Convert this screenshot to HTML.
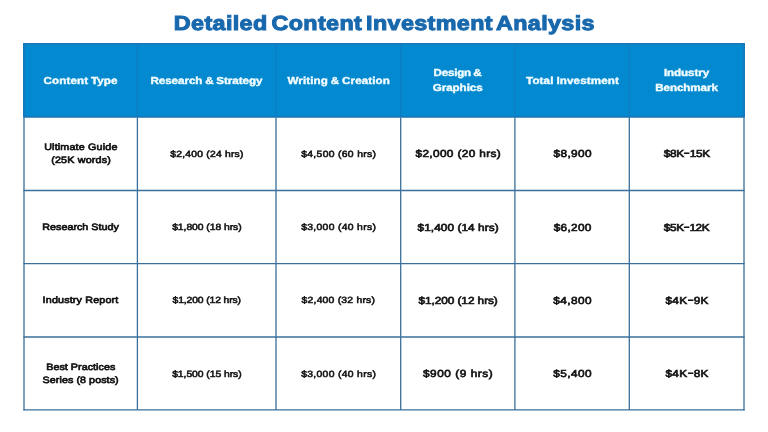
<!DOCTYPE html>
<html lang="en">
<head>
<meta charset="utf-8">
<title>Detailed Content Investment Analysis</title>
<style>
html,body{margin:0;padding:0;}
body{width:768px;height:432px;overflow:hidden;background:#fff;position:relative;font-family:"Liberation Sans",sans-serif;}
.hd{position:absolute;left:23.4px;top:43.4px;width:721.2px;height:74px;background:#0389cf;}
svg.grid{position:absolute;left:0;top:0;}
.t{position:absolute;white-space:nowrap;line-height:1;transform-origin:0 50%;--x:0px;--s:1;transform:translateX(var(--x)) scaleX(var(--s));text-rendering:geometricPrecision;}
.title{color:#1868ad;font-weight:bold;font-size:20.3px;-webkit-text-stroke:1px #1868ad;--s:1.15;word-spacing:-2.5px;}
.h{color:#f2fcff;font-weight:bold;font-size:10.1px;-webkit-text-stroke:0.4px #f2fcff;--s:1.15;word-spacing:-0.4px;}
.b{color:#141414;font-size:9.2px;-webkit-text-stroke:0.65px #141414;--s:1.17;}
.n{color:#141414;font-size:9px;-webkit-text-stroke:0.55px #141414;--s:1.15;}
.B{color:#141414;font-size:10.2px;-webkit-text-stroke:0.65px #141414;--s:1.16;}
.t i{font-style:normal;display:inline-block;transform:translateY(-1.2px) scaleX(1.5);margin:0 0.9px;}
</style>
</head>
<body>
<div class="hd"></div>
<svg class="grid" width="768" height="432" viewBox="0 0 768 432">
 <g stroke="#0c7ec5" stroke-width="1.4" fill="none">
  <line x1="137.4" y1="44" x2="137.4" y2="117"/>
  <line x1="276" y1="44" x2="276" y2="117"/>
  <line x1="400.7" y1="44" x2="400.7" y2="117"/>
  <line x1="514.9" y1="44" x2="514.9" y2="117"/>
  <line x1="629.3" y1="44" x2="629.3" y2="117"/>
 </g>
 <g stroke="#1f72b4" stroke-width="1.3" fill="none">
  <line x1="24" y1="43.2" x2="24" y2="117"/>
  <line x1="744" y1="43.2" x2="744" y2="117"/>
  <line x1="23.4" y1="43.8" x2="744.6" y2="43.8"/>
  <line x1="23.4" y1="117" x2="744.6" y2="117"/>
 </g>
 <g stroke="#3a6f9b" stroke-width="1.3" fill="none">
  <line x1="24" y1="117" x2="24" y2="410.5"/>
  <line x1="137.4" y1="117.5" x2="137.4" y2="410"/>
  <line x1="276" y1="117.5" x2="276" y2="410"/>
  <line x1="400.7" y1="117.5" x2="400.7" y2="410"/>
  <line x1="514.9" y1="117.5" x2="514.9" y2="410"/>
  <line x1="629.3" y1="117.5" x2="629.3" y2="410"/>
  <line x1="744" y1="117" x2="744" y2="410.5"/>
  <line x1="23.4" y1="190.5" x2="744.6" y2="190.5"/>
  <line x1="23.4" y1="263.6" x2="744.6" y2="263.6"/>
  <line x1="23.4" y1="337" x2="744.6" y2="337"/>
  <line x1="23.4" y1="409.9" x2="744.6" y2="409.9"/>
 </g>
</svg>
<div class="t title" id="title" style="left:173px;top:14px;--x:0.86px;letter-spacing:0.318px;">Detailed Content Investment Analysis</div>
<div class="t h" id="h1" style="left:43px;top:77px;--x:0.62px;letter-spacing:0.078px;">Content Type</div>
<div class="t h" id="h2" style="left:150px;top:77px;--x:0.40px;letter-spacing:-0.028px;">Research &amp; Strategy</div>
<div class="t h" id="h3" style="left:287px;top:77px;--x:0.50px;letter-spacing:0.081px;">Writing &amp; Creation</div>
<div class="t h" id="h4a" style="left:433px;top:69px;--x:0.62px;letter-spacing:-0.219px;">Design &amp;</div>
<div class="t h" id="h4b" style="left:432px;top:84px;--x:0.83px;letter-spacing:-0.067px;">Graphics</div>
<div class="t h" id="h5" style="left:526px;top:77px;--x:0.03px;letter-spacing:0.114px;">Total Investment</div>
<div class="t h" id="h6a" style="left:663px;top:69px;--x:0.88px;letter-spacing:-0.065px;">Industry</div>
<div class="t h" id="h6b" style="left:655px;top:84px;--x:0.18px;letter-spacing:-0.052px;">Benchmark</div>
<div class="t b" id="r1c1a" style="left:44px;top:143px;--x:0.19px;letter-spacing:0.138px;">Ultimate Guide</div>
<div class="t b" id="r1c1b" style="left:51px;top:156px;--x:0.18px;letter-spacing:0.143px;">(25K words)</div>
<div class="t n" id="r1c2" style="left:170px;top:150px;--x:0.17px;letter-spacing:0.193px;">$2,400 (24 hrs)</div>
<div class="t n" id="r1c3" style="left:301px;top:150px;--x:0.17px;letter-spacing:0.285px;">$4,500 (60 hrs)</div>
<div class="t B" id="r1c4" style="left:415px;top:150px;--x:0.47px;letter-spacing:0.312px;">$2,000 (20 hrs)</div>
<div class="t B" id="r1c5" style="left:553px;top:150px;--x:0.47px;letter-spacing:0.340px;">$8,900</div>
<div class="t B" id="r1c6" style="left:663px;top:150px;--x:0.80px;letter-spacing:-0.254px;">$8K<i>-</i>15K</div>
<div class="t b" id="r2c1" style="left:42px;top:223px;--x:0.32px;letter-spacing:0.000px;">Research Study</div>
<div class="t n" id="r2c2" style="left:172px;top:223px;--x:0.17px;letter-spacing:-0.047px;">$1,800 (18 hrs)</div>
<div class="t n" id="r2c3" style="left:301px;top:223px;--x:0.17px;letter-spacing:0.280px;">$3,000 (40 hrs)</div>
<div class="t B" id="r2c4" style="left:417px;top:224px;--x:0.52px;letter-spacing:0.057px;">$1,400 (14 hrs)</div>
<div class="t B" id="r2c5" style="left:553px;top:224px;--x:0.73px;letter-spacing:0.265px;">$6,200</div>
<div class="t B" id="r2c6" style="left:663px;top:224px;--x:0.80px;letter-spacing:-0.310px;">$5K<i>-</i>12K</div>
<div class="t b" id="r3c1" style="left:42px;top:296px;--x:0.59px;letter-spacing:0.137px;">Industry Report</div>
<div class="t n" id="r3c2" style="left:172px;top:296px;--x:0.58px;letter-spacing:-0.113px;">$1,200 (12 hrs)</div>
<div class="t n" id="r3c3" style="left:301px;top:296px;--x:0.58px;letter-spacing:0.195px;">$2,400 (32 hrs)</div>
<div class="t B" id="r3c4" style="left:418px;top:297px;--x:0.47px;letter-spacing:-0.050px;">$1,200 (12 hrs)</div>
<div class="t B" id="r3c5" style="left:553px;top:297px;--x:0.32px;letter-spacing:0.367px;">$4,800</div>
<div class="t B" id="r3c6" style="left:665px;top:297px;--x:0.52px;letter-spacing:0.236px;">$4K<i>-</i>9K</div>
<div class="t b" id="r4c1a" style="left:46px;top:363px;--x:0.18px;letter-spacing:0.025px;">Best Practices</div>
<div class="t b" id="r4c1b" style="left:42px;top:376px;--x:0.61px;letter-spacing:0.044px;">Series (8 posts)</div>
<div class="t n" id="r4c2" style="left:172px;top:370px;--x:0.17px;letter-spacing:-0.047px;">$1,500 (15 hrs)</div>
<div class="t n" id="r4c3" style="left:301px;top:370px;--x:0.17px;letter-spacing:0.280px;">$3,000 (40 hrs)</div>
<div class="t B" id="r4c4" style="left:422px;top:370px;--x:1.00px;letter-spacing:0.466px;">$900 (9 hrs)</div>
<div class="t B" id="r4c5" style="left:553px;top:370px;--x:0.32px;letter-spacing:0.367px;">$5,400</div>
<div class="t B" id="r4c6" style="left:665px;top:370px;--x:0.52px;letter-spacing:0.236px;">$4K<i>-</i>8K</div>
</body>
</html>
